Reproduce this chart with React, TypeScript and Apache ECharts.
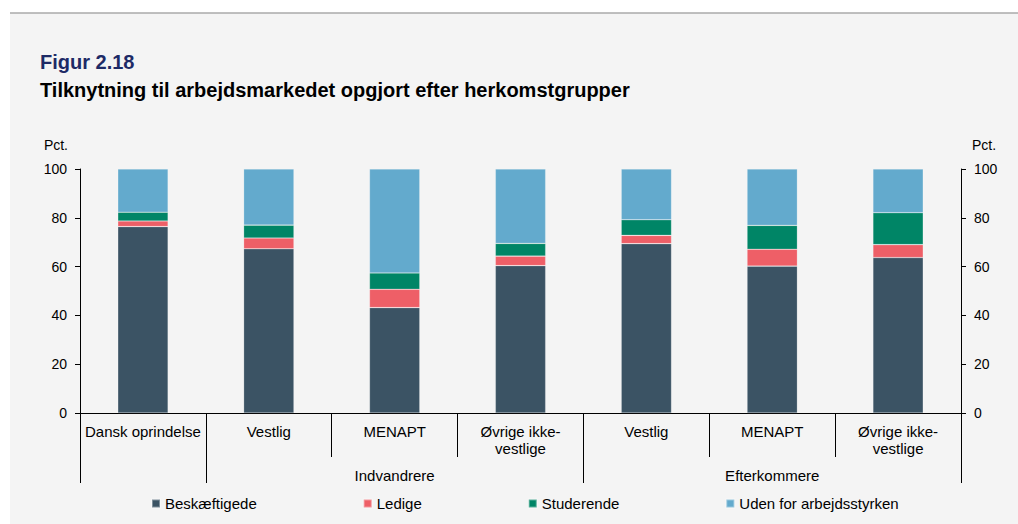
import React, { useEffect, useRef } from "react";
import * as echarts from "echarts";

const categories = [
  "Dansk oprindelse",
  "Vestlig",
  "MENAPT",
  "Øvrige ikke-\nvestlige",
  "Vestlig",
  "MENAPT",
  "Øvrige ikke-\nvestlige",
];
const groupLabels = ["Indvandrere", "Efterkommere"];
const yTicks = [0, 20, 40, 60, 80, 100];

const beskaeftigede = [76.4, 67.3, 43.2, 60.4, 69.4, 60.2, 63.7];
const ledige = [2.3, 4.4, 7.5, 3.9, 3.4, 6.9, 5.3];
const studerende = [3.6, 5.3, 6.7, 5.2, 6.4, 9.8, 13.1];
const udenFor = [17.7, 23.0, 42.6, 30.5, 20.8, 23.1, 17.9];

const seriesNames = ["Beskæftigede", "Ledige", "Studerende", "Uden for arbejdsstyrken"];
const seriesColors = ["#3b5364", "#ee5f67", "#008566", "#63aacd"];

const FONT = "'Liberation Sans', Arial, sans-serif";

export default function App() {
  const ref = useRef<HTMLDivElement>(null);
  useEffect(() => {
    if (!ref.current) return;
    const chart = echarts.init(ref.current, undefined, { renderer: "svg" });
    const values = [beskaeftigede, ledige, studerende, udenFor];
    const yAxisBase = {
      type: "value",
      min: yTicks[0],
      max: yTicks[yTicks.length - 1],
      interval: 20,
      axisLine: { show: true, lineStyle: { color: "#000", width: 1 } },
      axisTick: { show: true, length: 5, lineStyle: { color: "#000" } },
      splitLine: { show: false },
      axisLabel: { color: "#000", fontSize: 14, fontFamily: FONT, margin: 13 },
    };
    chart.setOption({
      animation: false,
      backgroundColor: "#ffffff",
      textStyle: { fontFamily: FONT },
      graphic: [
        {
          type: "rect",
          z: -10,
          silent: true,
          shape: { x: 10, y: 13, width: 1008, height: 511 },
          style: { fill: "#f4f4f4" },
        },
        {
          type: "line",
          z: -9,
          silent: true,
          shape: { x1: 10, y1: 13, x2: 1018, y2: 13 },
          style: { stroke: "#aaaaaa", lineWidth: 1.5 },
        },
        {
          type: "text",
          x: 68,
          y: 145,
          style: {
            text: "Pct.",
            fill: "#000",
            font: `14px ${FONT}`,
            textAlign: "right",
            textVerticalAlign: "middle",
          },
        },
        {
          type: "text",
          x: 972,
          y: 145,
          style: {
            text: "Pct.",
            fill: "#000",
            font: `14px ${FONT}`,
            textAlign: "left",
            textVerticalAlign: "middle",
          },
        },
      ],
      title: [
        {
          text: "Figur 2.18",
          left: 40,
          top: 52,
          padding: 0,
          textStyle: { color: "#1d2a66", fontSize: 20, fontWeight: "bold", fontFamily: FONT },
        },
        {
          text: "Tilknytning til arbejdsmarkedet opgjort efter herkomstgrupper",
          left: 40,
          top: 80,
          padding: 0,
          textStyle: { color: "#000", fontSize: 20, fontWeight: "bold", fontFamily: FONT },
        },
      ],
      legend: {
        left: 151,
        top: 496,
        itemWidth: 8,
        itemHeight: 8,
        itemGap: 106,
        icon: "rect",
        padding: 0,
        textStyle: { color: "#000", fontSize: 15, fontFamily: FONT },
        data: seriesNames,
      },
      grid: { left: 80, right: 57, top: 169, bottom: 111, containLabel: false },
      xAxis: [
        {
          type: "category",
          data: categories,
          position: "bottom",
          axisLine: { show: true, lineStyle: { color: "#000", width: 1 } },
          axisTick: { show: true, interval: 0, alignWithLabel: false, length: 44, lineStyle: { color: "#000" } },
          axisLabel: {
            interval: 0,
            color: "#000",
            fontSize: 15,
            fontFamily: FONT,
            margin: 10,
            lineHeight: 17,
            align: "center",
          },
          splitLine: { show: false },
        },
        {
          type: "value",
          position: "bottom",
          min: 0,
          max: categories.length,
          axisLine: { show: false },
          axisTick: {
            show: true,
            customValues: [0, 1, 4, 7],
            length: 70,
            lineStyle: { color: "#000" },
          },
          axisLabel: {
            show: true,
            customValues: [2.5, 5.5],
            formatter: (v: number) => (v < 4 ? groupLabels[0] : groupLabels[1]),
            color: "#000",
            fontSize: 15,
            fontFamily: FONT,
            margin: 55,
          },
          splitLine: { show: false },
        },
      ],
      yAxis: [
        { ...yAxisBase, position: "left" },
        { ...yAxisBase, position: "right" },
      ],
      series: seriesNames.map((name, i) => ({
        name,
        type: "bar",
        stack: "total",
        xAxisIndex: 0,
        yAxisIndex: 0,
        barWidth: "40%",
        data: values[i],
        itemStyle: {
          color: seriesColors[i],
          borderColor: "rgba(255,255,255,0.35)",
          borderWidth: 0.6,
        },
      })),
    });
    return () => chart.dispose();
  }, []);
  return (
    <div
      ref={ref}
      style={{ position: "fixed", left: 0, top: 0, width: 1018, height: 524 }}
    />
  );
}
